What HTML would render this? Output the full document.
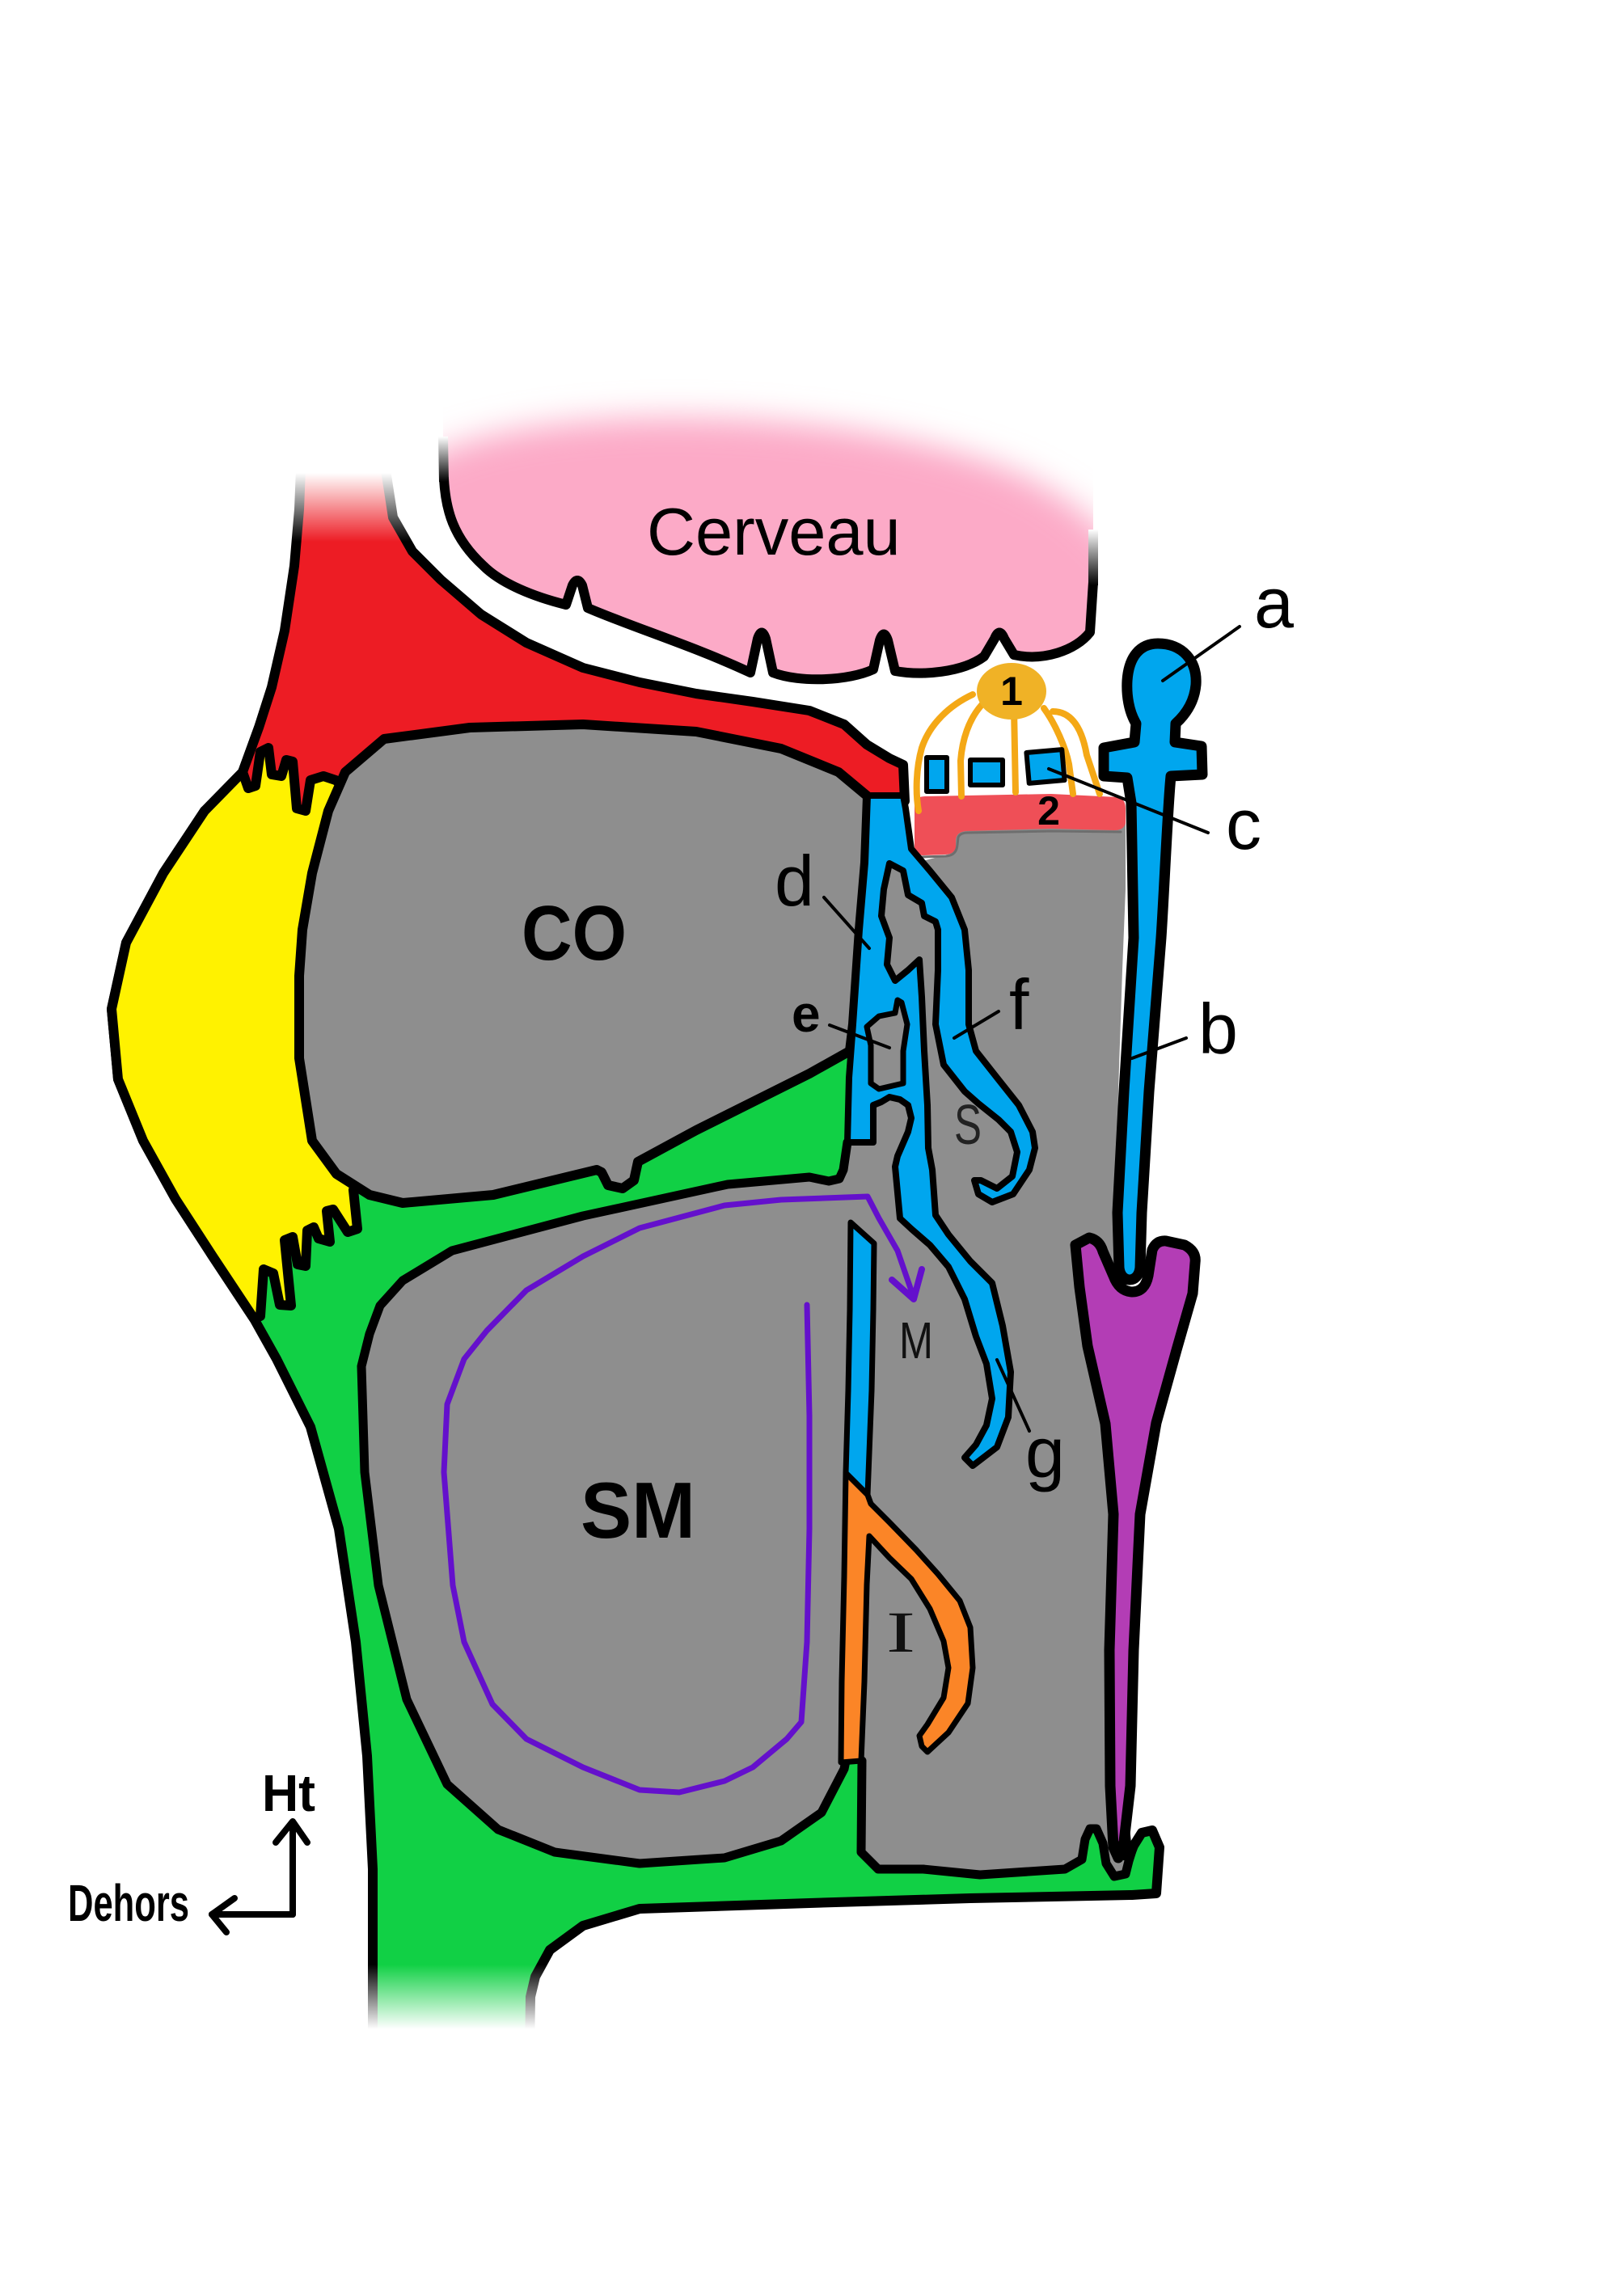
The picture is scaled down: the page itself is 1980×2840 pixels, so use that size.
<!DOCTYPE html>
<html><head><meta charset="utf-8">
<style>html,body{margin:0;padding:0;background:#fff}svg{display:block}</style>
</head><body>
<svg width="1980" height="2840" viewBox="0 0 1980 2840" xmlns="http://www.w3.org/2000/svg">
<defs>
 <filter id="blurP" x="-30%" y="-30%" width="160%" height="160%"><feGaussianBlur stdDeviation="20"/></filter>
 <clipPath id="pinkClip"><path d="M548,440 L548,552 L549,592 C551,630 560,665 598,700 C620,722 660,738 700,748 L708,724 Q714,712 720,724 L727,752 C780,775 860,800 928,832 L937,790 Q942,775 947,790 L956,832 C990,845 1050,842 1080,828 L1088,792 Q1093,777 1098,792 L1107,830 C1140,836 1190,832 1217,812 L1230,790 Q1236,775 1242,790 L1254,810 C1290,818 1330,805 1348,782 L1352,680 L1352,440 Z"/></clipPath>
 <linearGradient id="fadeDown" x1="0" y1="0" x2="0" y2="1"><stop offset="0" stop-color="#fff" stop-opacity="1"/><stop offset="0.5" stop-color="#fff" stop-opacity="1"/><stop offset="1" stop-color="#fff" stop-opacity="0"/></linearGradient>
 <linearGradient id="fadeUp" x1="0" y1="0" x2="0" y2="1"><stop offset="0" stop-color="#fff" stop-opacity="0"/><stop offset="0.42" stop-color="#fff" stop-opacity="1"/><stop offset="1" stop-color="#fff" stop-opacity="1"/></linearGradient>
 <linearGradient id="lineL" gradientUnits="userSpaceOnUse" x1="0" y1="540" x2="0" y2="596"><stop offset="0" stop-color="#fff"/><stop offset="1" stop-color="#000"/></linearGradient>
 <linearGradient id="lineR" gradientUnits="userSpaceOnUse" x1="0" y1="655" x2="0" y2="724"><stop offset="0" stop-color="#fff"/><stop offset="1" stop-color="#000"/></linearGradient>
</defs>

<g stroke-linejoin="round" stroke-linecap="round">

<!-- GREEN -->
<polygon fill="#11d045" stroke="#000" stroke-width="12" points="253,1003 202,1080 156,1166 138,1248 146,1335 177,1411 217,1483 263,1554 314,1631 342,1681 384,1765 419,1891 440,2031 454,2172 461,2312 461,2545 655,2545 656,2470 662,2445 680,2412 721,2382 791,2361 1001,2354 1200,2348 1400,2344 1430,2342 1434,2285 1425,2264 1412,2267 1402,2283 1395,2300 1385,2200 1370,1800 1100,1500 1060,1300 700,1300 380,1300"/>

<!-- YELLOW -->
<polygon fill="#fff200" stroke="#000" stroke-width="12" points="320,900 300,955 253,1003 202,1080 156,1166 138,1248 146,1335 177,1411 217,1483 263,1554 314,1631 322,1628 326,1570 338,1575 346,1614 360,1615 352,1534 362,1530 368,1564 378,1566 380,1522 388,1518 394,1532 408,1536 404,1498 412,1496 430,1524 442,1520 437,1472 480,1440 450,1000 420,915"/>

<!-- RED -->
<polygon fill="#ed1c24" stroke="#000" stroke-width="12" points="374,545 470,545 476,575 486,640 510,682 545,717 595,760 651,795 721,826 791,844 861,858 931,868 1001,879 1044,896 1072,921 1100,938 1117,946 1119,991 1073,992 1000,985 700,960 470,990 440,985 415,965 400,960 384,965 378,1003 367,1000 362,942 354,940 348,960 336,958 332,925 322,930 316,972 307,975 300,955 320,900 336,850 352,780 364,700 370,630 372,580"/>

<!-- CO -->
<polygon fill="#8e8e8e" stroke="#000" stroke-width="12" points="427,955 475,914 581,900 721,896 861,905 966,926 1037,955 1073,985 1070,1067 1063,1150 1055,1267 1051,1300 1001,1328 931,1363 861,1398 789,1437 784,1460 770,1470 752,1466 744,1450 738,1447 610,1478 498,1488 457,1478 416,1452 386,1411 370,1309 370,1207 374,1150 386,1080 406,1003"/>

<!-- GRAY SM + column (fill only) -->
<polygon fill="#8e8e8e" points="457,1650 470,1615 498,1584 559,1547 721,1504 900,1465 1001,1456 1025,1461 1038,1458 1043,1447 1048,1413 1062,1360 1062,1300 1062,1250 1066,1220 1080,1150 1082,1067 1090,1000 1100,1000 1130,1068 1175,1056 1175,1020 1392,1012 1392,1100 1388,1200 1383,1350 1380,1530 1372,1700 1372,1900 1370,2100 1372,2250 1382,2300 1396,2302 1392,2318 1378,2321 1368,2305 1364,2280 1356,2262 1348,2262 1342,2275 1338,2300 1317,2312 1212,2319 1142,2312 1086,2312 1065,2291 1066,2190 1060,2178 1048,2178 1044,2188 1016,2242 966,2277 896,2298 791,2305 686,2291 616,2263 553,2207 503,2102 468,1961 451,1821 447,1690"/>
<path fill="none" stroke="#000" stroke-width="11" d="M1048,1413 L1043,1447 L1038,1458 L1025,1461 L1001,1456 L900,1465 L721,1504 L559,1547 L498,1584 L470,1615 L457,1650 L447,1690 L451,1821 L468,1961 L503,2102 L553,2207 L616,2263 L686,2291 L791,2305 L896,2298 L966,2277 L1016,2242 L1044,2188 L1046,2178"/>
<path fill="none" stroke="#000" stroke-width="11" d="M1066,2178 L1065,2291 L1086,2312 L1142,2312 L1212,2319 L1317,2312 L1338,2300 L1342,2275 L1348,2262 L1356,2262 L1364,2280 L1368,2305 L1378,2321 L1392,2318 L1396,2302 L1402,2283 L1412,2267 L1425,2264 L1434,2285 L1430,2342"/>

<!-- PINK brain -->
<g clip-path="url(#pinkClip)">
 <path filter="url(#blurP)" fill="#fcaac7" d="M470,900 L470,610 C520,548 640,522 800,517 C960,514 1120,534 1240,578 C1320,610 1365,650 1410,710 L1410,900 Z"/>
</g>
<path fill="none" stroke="#000" stroke-width="12" d="M549,592 C551,630 560,665 598,700 C620,722 660,738 700,748 L708,724 Q714,712 720,724 L727,752 C780,775 860,800 928,832 L937,790 Q942,775 947,790 L956,832 C990,845 1050,842 1080,828 L1088,792 Q1093,777 1098,792 L1107,830 C1140,836 1190,832 1217,812 L1230,790 Q1236,775 1242,790 L1254,810 C1290,818 1330,805 1348,782 L1352,720"/>
<path fill="none" stroke="url(#lineL)" stroke-width="12" stroke-linecap="butt" d="M548,540 L549,596"/>
<path fill="none" stroke="url(#lineR)" stroke-width="12" stroke-linecap="butt" d="M1352,655 L1352,724"/>

<!-- Salmon bar 2 -->
<path fill="#ef4f57" d="M1131,993 Q1133,985 1145,985 L1300,982 L1382,986 Q1392,988 1392,1000 L1392,1018 Q1390,1027 1378,1027 L1300,1025 L1195,1028 Q1182,1029 1182,1040 L1182,1048 Q1180,1057 1168,1057 L1142,1058 Q1131,1058 1131,1048 Z"/>
<path fill="none" stroke="#6e6e6e" stroke-width="3" d="M1138,1060 L1170,1059 Q1183,1058 1184,1045 L1185,1036 Q1187,1030 1197,1030 L1300,1028 L1386,1029"/>

<!-- orange legs + blob 1 -->
<g fill="none" stroke="#f4a816" stroke-width="8">
 <path d="M1203,859 C1175,872 1150,895 1140,925 C1133,950 1132,980 1136,1003"/>
 <path d="M1214,872 C1198,890 1190,915 1188,941 L1189,985"/>
 <path d="M1254,876 L1256,980"/>
 <path d="M1291,876 C1305,895 1318,925 1322,945 L1327,982"/>
 <path d="M1302,880 C1325,880 1338,900 1344,934 L1360,982"/>
</g>
<ellipse cx="1251" cy="855" rx="43" ry="35" fill="#f0b226"/>

<!-- blue squares -->
<g fill="#00a6ee" stroke="#000" stroke-width="6">
 <rect x="1146" y="937" width="25" height="42"/>
 <rect x="1200" y="940" width="40" height="31"/>
 <rect x="1271" y="929" width="44" height="38" transform="rotate(-5 1293 948)"/>
</g>

<!-- BLUE main structure d/e/f/g -->
<polygon fill="#00a6ee" stroke="#000" stroke-width="8" points="1073,984 1117,984 1120,1000 1127,1050 1150,1077 1177,1110 1193,1150 1198,1200 1198,1267 1207,1300 1233,1333 1260,1367 1277,1400 1280,1420 1273,1447 1253,1477 1227,1487 1210,1477 1205,1460 1213,1460 1233,1470 1252,1455 1258,1425 1250,1400 1235,1385 1210,1365 1193,1350 1167,1317 1157,1267 1160,1200 1160,1150 1157,1140 1143,1133 1140,1117 1123,1107 1117,1077 1100,1068 1093,1100 1090,1133 1100,1160 1097,1193 1107,1213 1123,1200 1137,1187 1140,1233 1143,1300 1147,1367 1148,1420 1153,1447 1157,1503 1173,1527 1200,1560 1227,1587 1240,1640 1250,1697 1247,1753 1233,1790 1203,1813 1193,1803 1207,1787 1220,1763 1227,1730 1220,1687 1207,1653 1193,1607 1173,1567 1150,1540 1127,1520 1113,1507 1107,1443 1110,1430 1123,1400 1127,1383 1123,1367 1113,1360 1100,1357 1090,1363 1080,1367 1080,1413 1048,1413 1050,1333 1055,1267 1063,1150 1070,1067"/>
<polygon fill="#8e8e8e" stroke="#000" stroke-width="7" points="1110,1237 1107,1253 1087,1257 1072,1270 1077,1293 1077,1340 1087,1347 1117,1340 1117,1300 1122,1267 1115,1240"/>

<!-- blue strip near M -->
<polygon fill="#00a6ee" stroke="#000" stroke-width="7" points="1052,1512 1081,1538 1080,1620 1078,1720 1073,1849 1046,1822 1049,1720 1051,1620"/>

<!-- orange I -->
<polygon fill="#fb8527" stroke="#000" stroke-width="7" points="1046,1822 1073,1849 1077,1860 1100,1883 1133,1917 1160,1947 1187,1980 1200,2013 1203,2063 1197,2107 1173,2143 1147,2167 1140,2160 1137,2147 1147,2133 1167,2100 1173,2063 1167,2030 1150,1990 1127,1953 1100,1927 1075,1900 1072,1960 1069,2080 1065,2178 1040,2180 1041,2080 1044,1950"/>

<!-- purple arrow -->
<polyline fill="none" stroke="#6410cc" stroke-width="7" points="998,1614 1001,1751 1001,1891 998,2031 991,2130 973,2151 931,2186 896,2203 840,2217 791,2214 721,2186 651,2151 609,2108 574,2031 560,1961 549,1821 553,1737 574,1681 602,1646 651,1596 721,1554 791,1519 896,1491 966,1484 1073,1480 1087,1507 1110,1547 1130,1605"/>
<polyline fill="none" stroke="#6410cc" stroke-width="8" points="1103,1583 1130,1607 1140,1570"/>

<!-- purple V -->
<path fill="#b33db5" stroke="#000" stroke-width="13" d="M1330,1540 L1347,1531 Q1360,1534 1364,1548 L1377,1578 Q1384,1597 1400,1598 Q1416,1598 1420,1578 L1425,1546 Q1430,1534 1442,1535 L1465,1540 Q1480,1548 1478,1562 L1475,1600 L1455,1670 L1430,1760 L1410,1873 L1402,2041 L1398,2209 L1390,2278 L1383,2298 L1377,2285 L1373,2209 L1372,2041 L1377,1873 L1367,1761 L1345,1665 L1335,1592 Z"/>

<!-- a/b stalk -->
<path fill="#00a6ee" stroke="#000" stroke-width="13" d="M1432,796 C1462,796 1481,817 1479,847 C1477,870 1465,885 1454,895 L1453,918 L1486,923 L1487,958 L1448,960 C1444,1000 1440,1100 1436,1160 L1421,1350 L1412,1500 L1410,1568 C1408,1588 1386,1588 1384,1568 L1382,1500 L1390,1350 L1402,1160 L1399,993 L1394,962 L1365,960 L1365,925 L1403,918 L1405,895 C1396,880 1393,860 1394,842 C1396,812 1410,796 1432,796 Z"/>

<!-- leader lines -->
<g stroke="#000" stroke-width="4" fill="none">
 <line x1="1533" y1="775" x2="1438" y2="842"/>
 <line x1="1494" y1="1030" x2="1297" y2="951"/>
 <line x1="1467" y1="1284" x2="1400" y2="1309"/>
 <line x1="1019" y1="1110" x2="1075" y2="1173"/>
 <line x1="1026" y1="1268" x2="1100" y2="1296"/>
 <line x1="1235" y1="1251" x2="1180" y2="1284"/>
 <line x1="1233" y1="1682" x2="1273" y2="1770"/>
</g>

<!-- Ht / Dehors arrows -->
<g stroke="#000" stroke-width="8" fill="none">
 <path d="M362,2368 L362,2256"/>
 <path d="M341,2279 L362,2253 L380,2279"/>
 <path d="M362,2368 L262,2368"/>
 <path d="M290,2348 L262,2368 L280,2390"/>
</g>
</g>

<!-- fades -->
<rect x="320" y="500" width="220" height="170" fill="url(#fadeDown)"/>
<rect x="425" y="2430" width="275" height="190" fill="url(#fadeUp)"/>

<!-- TEXT -->
<g font-family="Liberation Sans, Arial, sans-serif" fill="#000">
 <text x="800" y="686" font-size="83">Cerveau</text>
 <text x="645" y="1187" font-size="96" font-weight="bold" textLength="130" lengthAdjust="spacingAndGlyphs">CO</text>
 <text x="718" y="1902" font-size="98" font-weight="bold" textLength="142" lengthAdjust="spacingAndGlyphs">SM</text>
 <text x="1551" y="776" font-size="88">a</text>
 <text x="1516" y="1050" font-size="88">c</text>
 <text x="1482" y="1303" font-size="88">b</text>
 <text x="958" y="1120" font-size="88">d</text>
 <text x="1248" y="1273" font-size="88">f</text>
 <text x="1268" y="1827" font-size="88">g</text>
 <text x="979" y="1276" font-size="64" font-weight="bold">e</text>
 <text x="1251" y="872" font-size="50" font-weight="bold" text-anchor="middle">1</text>
 <text x="1297" y="1020" font-size="50" font-weight="bold" text-anchor="middle">2</text>
 <text x="1180" y="1415" font-size="70" fill="#222" textLength="34" lengthAdjust="spacingAndGlyphs">S</text>
 <text x="1112" y="1680" font-size="64" fill="#111" textLength="42" lengthAdjust="spacingAndGlyphs">M</text>
 <text x="1096" y="2043" font-size="72" font-family="Liberation Serif, serif" fill="#111" textLength="36" lengthAdjust="spacingAndGlyphs">I</text>
 <text x="324" y="2240" font-size="64" font-weight="bold" textLength="66" lengthAdjust="spacingAndGlyphs">Ht</text>
 <text x="84" y="2376" font-size="64" font-weight="bold" textLength="150" lengthAdjust="spacingAndGlyphs">Dehors</text>
</g>
</svg>
</body></html>
